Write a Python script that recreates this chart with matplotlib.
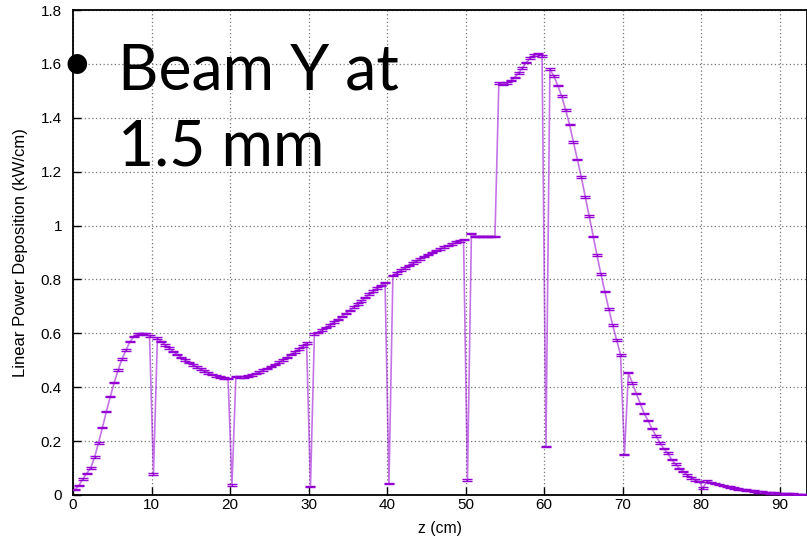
import numpy as np
import matplotlib
matplotlib.use("Agg")
import matplotlib.pyplot as plt

# linear power deposition per 0.5 cm bin, split by 10 cm section
# (first bin centre at z = 0.25 cm); a single low bin sits right after each section edge
sec_00 = [0.020, 0.035, 0.060, 0.080, 0.100, 0.140, 0.194, 0.250, 0.310, 0.365,
          0.417, 0.464, 0.505, 0.538, 0.569, 0.588, 0.598, 0.600, 0.598, 0.591]
sec_10 = [0.078,
          0.582, 0.570, 0.557, 0.545, 0.533, 0.522, 0.511, 0.501, 0.492, 0.483,
          0.475, 0.467, 0.460, 0.453, 0.447, 0.442, 0.438, 0.435, 0.433]
sec_20 = [0.037,
          0.440, 0.438, 0.439, 0.442, 0.446, 0.451, 0.457, 0.463, 0.470, 0.477,
          0.485, 0.493, 0.502, 0.511, 0.521, 0.531, 0.541, 0.552, 0.565]
sec_30 = [0.031,
          0.598, 0.603, 0.612, 0.622, 0.632, 0.642, 0.652, 0.663, 0.674, 0.685,
          0.697, 0.709, 0.721, 0.733, 0.745, 0.757, 0.768, 0.778, 0.788]
sec_40 = [0.043,
          0.815, 0.825, 0.834, 0.843, 0.852, 0.861, 0.869, 0.877, 0.885, 0.893,
          0.900, 0.907, 0.914, 0.920, 0.926, 0.932, 0.938, 0.943, 0.948]
sec_50 = [0.056,
          0.970, 0.960, 0.960, 0.960, 0.960, 0.960, 0.960,
          1.530, 1.524, 1.528, 1.538, 1.550, 1.566, 1.585, 1.605, 1.622, 1.634,
          1.638, 1.630]
sec_60 = [0.180,
          1.580, 1.555, 1.520, 1.480, 1.430, 1.375, 1.310, 1.245, 1.180, 1.107,
          1.036, 0.959, 0.890, 0.820, 0.755, 0.690, 0.630, 0.575, 0.520]
sec_70 = [0.150,
          0.454, 0.415, 0.377, 0.340, 0.303, 0.276, 0.247, 0.220, 0.194, 0.173,
          0.155, 0.132, 0.114, 0.099, 0.087, 0.074, 0.064, 0.056, 0.050]
sec_80 = [0.025,
          0.052, 0.047, 0.043, 0.039, 0.035, 0.032, 0.029, 0.026, 0.023, 0.020,
          0.018, 0.016, 0.014, 0.012, 0.011, 0.009, 0.008, 0.007, 0.006, 0.005,
          0.004, 0.003, 0.003, 0.002, 0.002, 0.001]
stat_err = 0.003

power = np.array(sec_00 + sec_10 + sec_20 + sec_30 + sec_40 +
                 sec_50 + sec_60 + sec_70 + sec_80)
z = 0.25 + 0.5 * np.arange(len(power))

xticks = [0, 10, 20, 30, 40, 50, 60, 70, 80, 90]
yticks = [0, 0.2, 0.4, 0.6, 0.8, 1.0, 1.2, 1.4, 1.6, 1.8]
ytick_labels = ["0", "0.2", "0.4", "0.6", "0.8", "1", "1.2", "1.4", "1.6", "1.8"]

plt.rcParams["font.family"] = ["Liberation Sans", "DejaVu Sans"]

fig = plt.figure(figsize=(8.07, 5.50), dpi=100)
ax = fig.add_axes([73/807, 55/550, 1 - 73/807, 485/550])

violet = "#9400d3"
ax.plot(z, power, color=violet, lw=1.2, alpha=0.55, zorder=3)
ax.errorbar(z, power, yerr=stat_err, fmt="none", ecolor=violet, elinewidth=1.0,
            capsize=3.4, capthick=1.0, zorder=4)

ax.set_xlim(0, 93.5)
ax.set_ylim(0, 1.8)
ax.set_xticks(xticks)
ax.set_yticks(yticks)
ax.set_yticklabels(ytick_labels)
ax.tick_params(direction="in", length=6, width=1, labelsize=11, colors="black")
ax.tick_params(axis="y", pad=8)
ax.tick_params(axis="x", pad=2)
ax.grid(True, color="#777777", linestyle=(0, (1, 2)), linewidth=0.9)
ax.set_axisbelow(True)
for s in ax.spines.values():
    s.set_linewidth(1.3)

ax.set_xlabel("z (cm)", fontsize=11.3, labelpad=7)
ax.set_ylabel("Linear Power Deposition (kW/cm)", fontsize=12, labelpad=9)

# slide caption laid over the plot
fig.text(77/807, 1 - 65/550, "\u2022", fontsize=38, family="Lato",
         ha="center", va="center")
fig.text(118/807, 1 - 90/550, "Beam Y at", fontsize=45, family="Lato",
         ha="left", va="baseline")
fig.text(118/807, 1 - 165/550, "1.5 mm", fontsize=45, family="Lato",
         ha="left", va="baseline")

fig.savefig("out.png", dpi=100)
